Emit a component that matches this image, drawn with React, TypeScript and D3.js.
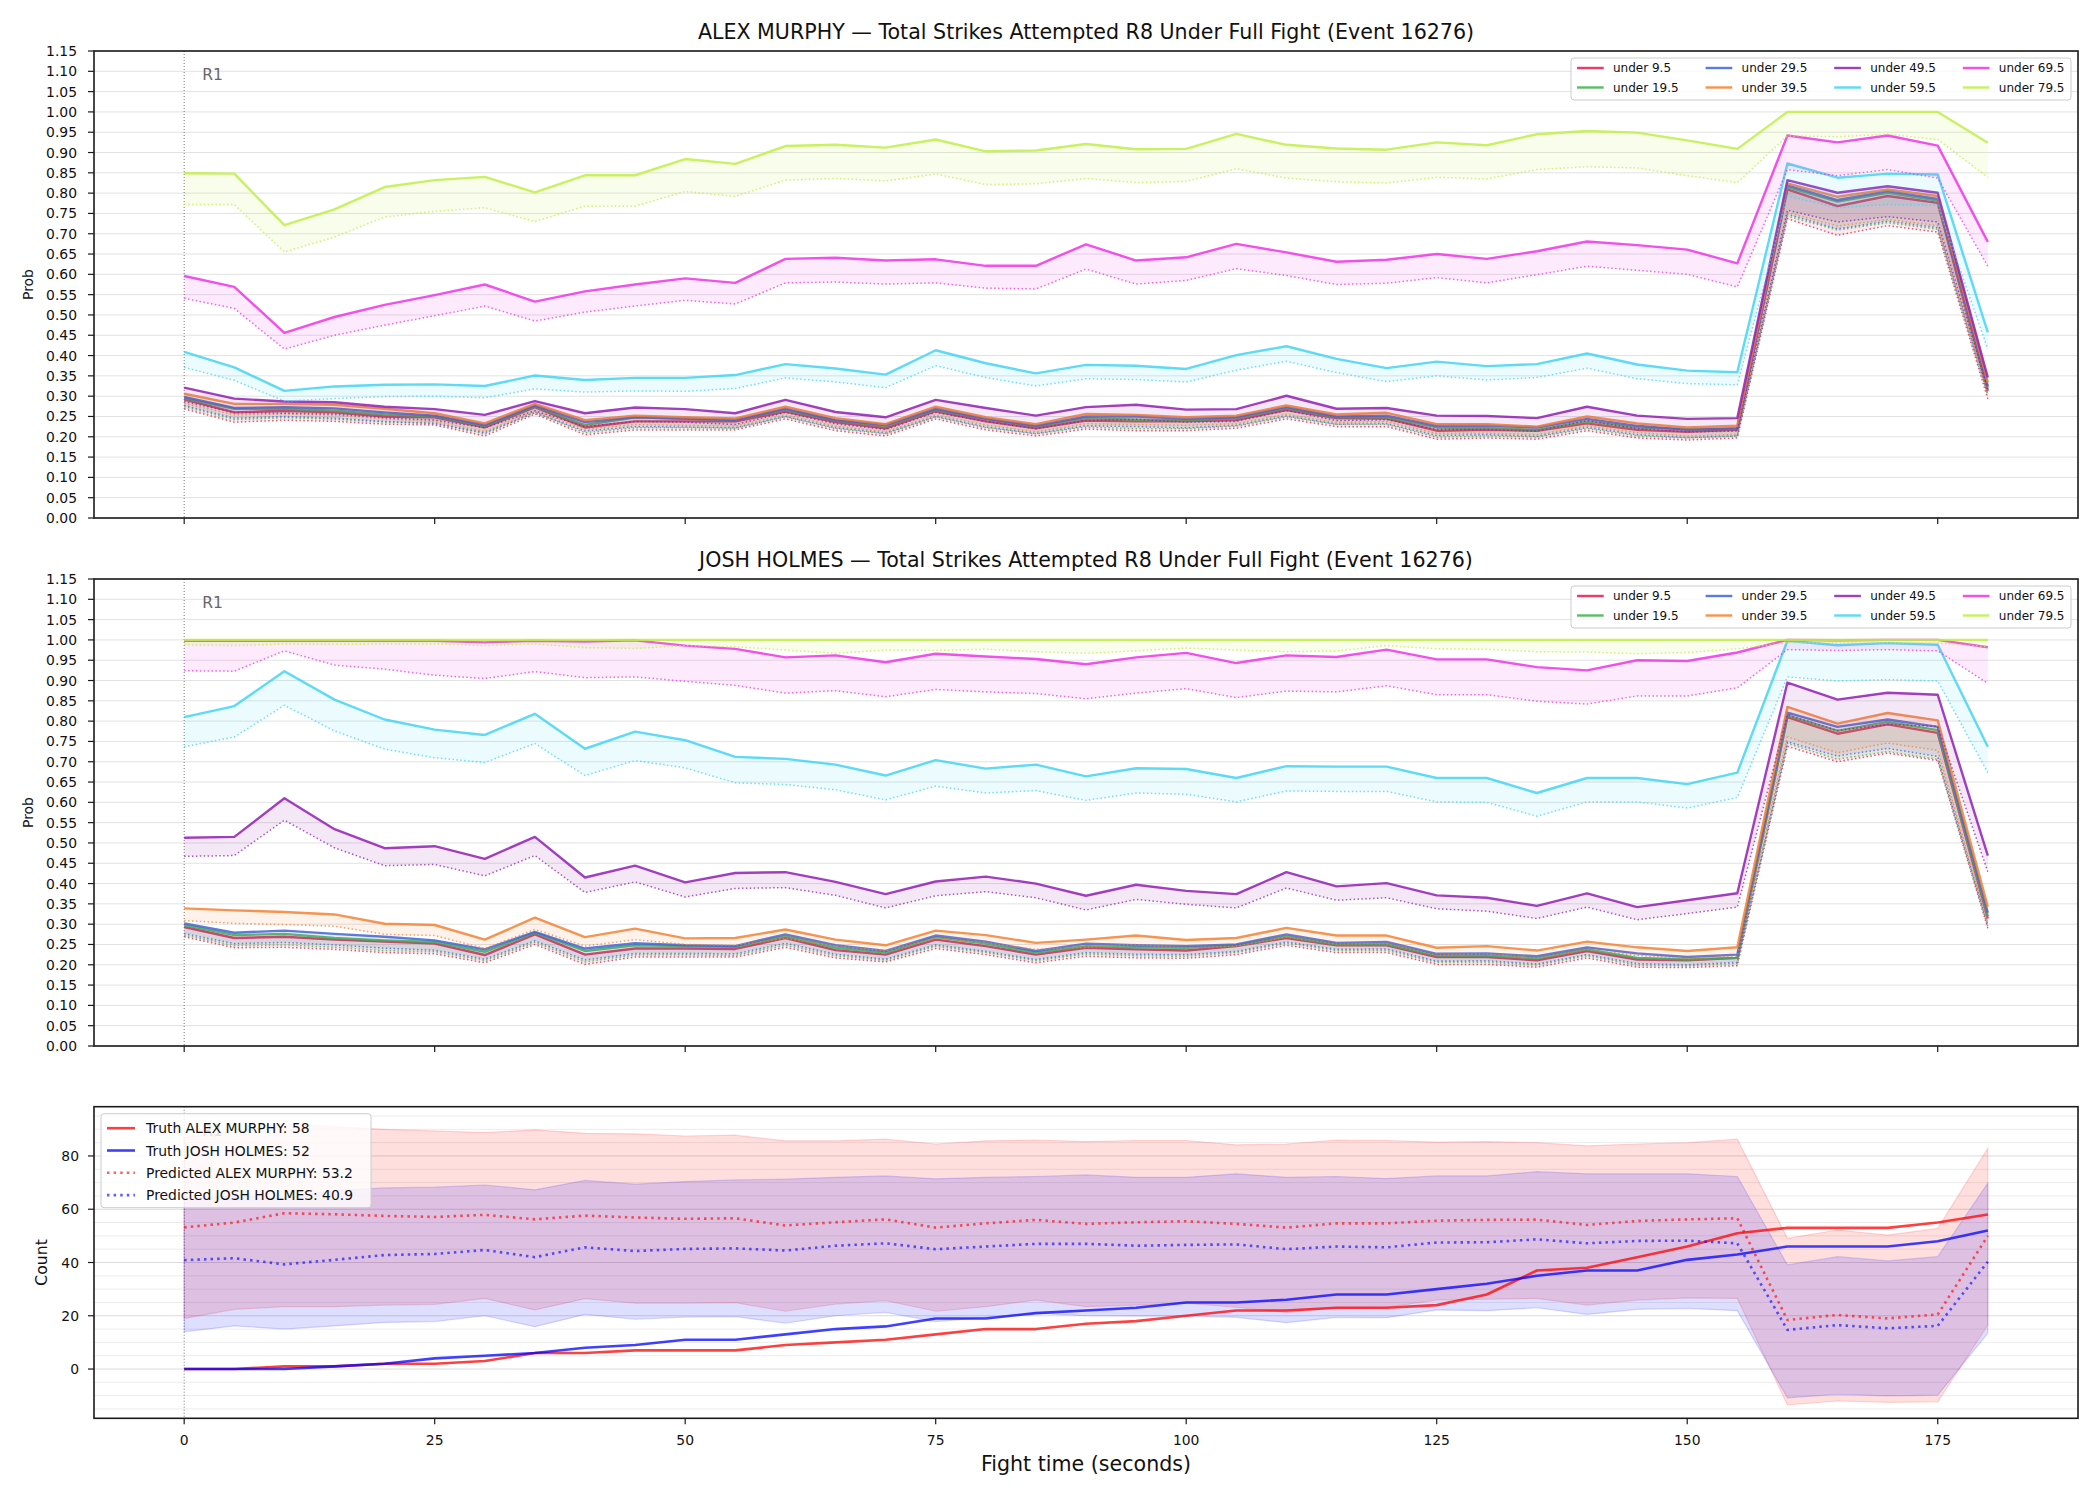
import React, { useEffect, useRef } from 'react';
import * as d3 from 'd3';

const TIMES = [0, 5, 10, 15, 20, 25, 30, 35, 40, 45, 50, 55, 60, 65, 70, 75, 80, 85,
  90, 95, 100, 105, 110, 115, 120, 125, 130, 135, 140, 145, 150, 155, 160, 165, 170, 175, 180];

const X_TICKS = [0, 25, 50, 75, 100, 125, 150, 175];
const PROB_TICKS = [0, 0.05, 0.1, 0.15, 0.2, 0.25, 0.3, 0.35, 0.4, 0.45, 0.5, 0.55, 0.6, 0.65, 0.7, 0.75, 0.8, 0.85, 0.9, 0.95, 1.0, 1.05, 1.1, 1.15];
const COUNT_TICKS = [0, 20, 40, 60, 80];
const COUNT_MINOR = [-15, -10, -5, 5, 10, 15, 25, 30, 35, 45, 50, 55, 65, 70, 75, 85, 90, 95];

const LINE_LABELS = ['under 9.5', 'under 19.5', 'under 29.5', 'under 39.5', 'under 49.5', 'under 59.5', 'under 69.5', 'under 79.5'];
const LINE_COLORS = ['#e6194b', '#3cb44b', '#4363d8', '#f58231', '#911eb4', '#42d4f4', '#f032e6', '#bfef45'];

// ---- ALEX MURPHY: probability of "under" (solid) and lower band (dotted)
const ALEX_U9 = [0.292, 0.260, 0.264, 0.260, 0.250, 0.248, 0.223, 0.273, 0.223, 0.238, 0.238, 0.238, 0.262, 0.236, 0.221, 0.263, 0.238, 0.221,
  0.240, 0.238, 0.238, 0.241, 0.266, 0.246, 0.245, 0.215, 0.217, 0.215, 0.233, 0.217, 0.212, 0.217, 0.809, 0.768, 0.793, 0.776, 0.313];
const ALEX_U9_LO = [0.269, 0.236, 0.241, 0.238, 0.231, 0.229, 0.202, 0.256, 0.205, 0.217, 0.217, 0.217, 0.244, 0.215, 0.202, 0.244, 0.217, 0.202,
  0.219, 0.215, 0.215, 0.221, 0.244, 0.225, 0.225, 0.194, 0.197, 0.194, 0.215, 0.197, 0.192, 0.197, 0.737, 0.696, 0.720, 0.704, 0.293];
const ALEX_U19 = [0.295, 0.269, 0.269, 0.264, 0.255, 0.250, 0.226, 0.275, 0.229, 0.248, 0.244, 0.242, 0.266, 0.240, 0.226, 0.266, 0.244, 0.225,
  0.246, 0.242, 0.240, 0.246, 0.270, 0.248, 0.248, 0.223, 0.221, 0.217, 0.238, 0.223, 0.219, 0.219, 0.815, 0.779, 0.801, 0.782, 0.321];
const ALEX_U19_LO = [0.274, 0.242, 0.247, 0.243, 0.236, 0.234, 0.207, 0.261, 0.210, 0.222, 0.222, 0.221, 0.249, 0.220, 0.207, 0.249, 0.222, 0.207,
  0.224, 0.220, 0.220, 0.226, 0.249, 0.230, 0.230, 0.199, 0.202, 0.199, 0.220, 0.202, 0.197, 0.202, 0.743, 0.709, 0.727, 0.711, 0.301];
const ALEX_U29 = [0.298, 0.271, 0.273, 0.270, 0.260, 0.252, 0.229, 0.277, 0.236, 0.248, 0.245, 0.241, 0.269, 0.241, 0.229, 0.269, 0.244, 0.227,
  0.250, 0.250, 0.244, 0.248, 0.273, 0.250, 0.252, 0.227, 0.227, 0.223, 0.244, 0.227, 0.217, 0.221, 0.819, 0.783, 0.805, 0.786, 0.325];
const ALEX_U29_LO = [0.277, 0.246, 0.250, 0.246, 0.238, 0.232, 0.210, 0.259, 0.214, 0.225, 0.224, 0.222, 0.250, 0.222, 0.209, 0.250, 0.224, 0.208,
  0.227, 0.225, 0.222, 0.228, 0.251, 0.231, 0.232, 0.203, 0.205, 0.201, 0.223, 0.205, 0.198, 0.202, 0.748, 0.712, 0.731, 0.715, 0.305];
const ALEX_U39 = [0.306, 0.281, 0.281, 0.279, 0.269, 0.258, 0.233, 0.281, 0.241, 0.252, 0.248, 0.245, 0.274, 0.246, 0.231, 0.274, 0.248, 0.231,
  0.256, 0.254, 0.248, 0.252, 0.277, 0.255, 0.259, 0.231, 0.231, 0.225, 0.250, 0.233, 0.223, 0.227, 0.824, 0.791, 0.809, 0.793, 0.334];
const ALEX_U39_LO = [0.282, 0.254, 0.256, 0.253, 0.244, 0.237, 0.213, 0.262, 0.219, 0.230, 0.228, 0.226, 0.254, 0.226, 0.212, 0.254, 0.229, 0.212,
  0.232, 0.230, 0.228, 0.232, 0.255, 0.235, 0.237, 0.208, 0.209, 0.205, 0.227, 0.210, 0.202, 0.206, 0.752, 0.719, 0.735, 0.720, 0.309];
const ALEX_U49 = [0.321, 0.294, 0.287, 0.285, 0.274, 0.268, 0.254, 0.288, 0.258, 0.272, 0.268, 0.258, 0.291, 0.261, 0.248, 0.291, 0.271, 0.252,
  0.273, 0.279, 0.267, 0.268, 0.301, 0.269, 0.271, 0.252, 0.251, 0.246, 0.274, 0.252, 0.244, 0.246, 0.832, 0.801, 0.817, 0.801, 0.346];
const ALEX_U49_LO = [0.287, 0.260, 0.258, 0.256, 0.247, 0.241, 0.222, 0.264, 0.225, 0.238, 0.236, 0.230, 0.260, 0.232, 0.218, 0.260, 0.238, 0.220,
  0.240, 0.243, 0.236, 0.238, 0.265, 0.240, 0.242, 0.218, 0.218, 0.214, 0.240, 0.220, 0.212, 0.214, 0.758, 0.729, 0.742, 0.729, 0.317];
const ALEX_U59 = [0.409, 0.371, 0.313, 0.324, 0.328, 0.329, 0.325, 0.351, 0.340, 0.345, 0.345, 0.352, 0.379, 0.368, 0.353, 0.413, 0.381, 0.356,
  0.377, 0.375, 0.367, 0.401, 0.423, 0.392, 0.369, 0.385, 0.374, 0.379, 0.405, 0.378, 0.363, 0.359, 0.873, 0.838, 0.848, 0.846, 0.457];
const ALEX_U59_LO = [0.371, 0.339, 0.288, 0.294, 0.299, 0.300, 0.296, 0.318, 0.310, 0.313, 0.312, 0.319, 0.345, 0.335, 0.321, 0.375, 0.346, 0.325,
  0.343, 0.341, 0.335, 0.364, 0.386, 0.358, 0.336, 0.350, 0.340, 0.346, 0.369, 0.343, 0.331, 0.328, 0.793, 0.764, 0.772, 0.770, 0.416];
const ALEX_U69 = [0.596, 0.569, 0.456, 0.495, 0.525, 0.549, 0.575, 0.533, 0.558, 0.575, 0.590, 0.579, 0.638, 0.641, 0.634, 0.637, 0.621, 0.621,
  0.674, 0.634, 0.642, 0.675, 0.654, 0.631, 0.636, 0.650, 0.638, 0.657, 0.681, 0.672, 0.661, 0.627, 0.942, 0.925, 0.942, 0.917, 0.680];
const ALEX_U69_LO = [0.541, 0.516, 0.416, 0.450, 0.475, 0.498, 0.522, 0.485, 0.507, 0.522, 0.536, 0.527, 0.579, 0.581, 0.576, 0.579, 0.566, 0.564,
  0.613, 0.576, 0.585, 0.614, 0.597, 0.575, 0.578, 0.592, 0.579, 0.599, 0.620, 0.610, 0.600, 0.569, 0.858, 0.843, 0.858, 0.837, 0.620];
const ALEX_U79 = [0.849, 0.848, 0.721, 0.760, 0.815, 0.832, 0.840, 0.802, 0.844, 0.844, 0.884, 0.872, 0.916, 0.919, 0.912, 0.932, 0.903, 0.905,
  0.921, 0.908, 0.909, 0.946, 0.919, 0.910, 0.907, 0.925, 0.918, 0.945, 0.953, 0.949, 0.930, 0.909, 1.000, 1.000, 1.000, 1.000, 0.924];
const ALEX_U79_LO = [0.772, 0.772, 0.655, 0.692, 0.741, 0.755, 0.764, 0.730, 0.768, 0.768, 0.804, 0.792, 0.832, 0.836, 0.830, 0.847, 0.821, 0.823,
  0.836, 0.826, 0.829, 0.860, 0.837, 0.828, 0.825, 0.839, 0.835, 0.858, 0.865, 0.862, 0.843, 0.826, 0.941, 0.939, 0.945, 0.932, 0.839];

// ---- JOSH HOLMES
const JOSH_U9 = [0.293, 0.266, 0.269, 0.262, 0.257, 0.252, 0.224, 0.275, 0.225, 0.240, 0.240, 0.239, 0.266, 0.236, 0.225, 0.262, 0.246, 0.225,
  0.242, 0.238, 0.235, 0.246, 0.266, 0.248, 0.248, 0.219, 0.219, 0.211, 0.234, 0.213, 0.211, 0.217, 0.810, 0.769, 0.792, 0.771, 0.314];
const JOSH_U9_LO = [0.269, 0.242, 0.243, 0.238, 0.230, 0.227, 0.205, 0.250, 0.201, 0.219, 0.219, 0.219, 0.243, 0.217, 0.207, 0.240, 0.225, 0.205,
  0.221, 0.217, 0.216, 0.225, 0.248, 0.230, 0.230, 0.201, 0.201, 0.194, 0.217, 0.194, 0.193, 0.198, 0.738, 0.700, 0.721, 0.703, 0.290];
const JOSH_U19 = [0.298, 0.273, 0.276, 0.266, 0.260, 0.256, 0.232, 0.279, 0.234, 0.248, 0.246, 0.244, 0.270, 0.242, 0.230, 0.268, 0.252, 0.230,
  0.246, 0.243, 0.242, 0.248, 0.270, 0.250, 0.250, 0.223, 0.223, 0.216, 0.238, 0.217, 0.213, 0.217, 0.814, 0.776, 0.798, 0.778, 0.320];
const JOSH_U19_LO = [0.273, 0.247, 0.249, 0.243, 0.235, 0.232, 0.210, 0.255, 0.207, 0.224, 0.224, 0.223, 0.248, 0.222, 0.211, 0.245, 0.230, 0.210,
  0.226, 0.222, 0.221, 0.230, 0.253, 0.235, 0.235, 0.206, 0.206, 0.199, 0.222, 0.199, 0.197, 0.203, 0.745, 0.706, 0.725, 0.706, 0.294];
const JOSH_U29 = [0.302, 0.279, 0.284, 0.276, 0.269, 0.260, 0.238, 0.281, 0.240, 0.253, 0.248, 0.246, 0.275, 0.248, 0.234, 0.272, 0.257, 0.234,
  0.252, 0.248, 0.246, 0.250, 0.275, 0.254, 0.256, 0.227, 0.228, 0.221, 0.243, 0.228, 0.219, 0.225, 0.821, 0.786, 0.804, 0.786, 0.328];
const JOSH_U29_LO = [0.277, 0.252, 0.255, 0.249, 0.241, 0.236, 0.214, 0.259, 0.212, 0.228, 0.228, 0.227, 0.253, 0.226, 0.214, 0.249, 0.233, 0.213,
  0.230, 0.226, 0.225, 0.233, 0.256, 0.238, 0.239, 0.209, 0.210, 0.202, 0.225, 0.203, 0.200, 0.206, 0.749, 0.714, 0.733, 0.713, 0.298];
const JOSH_U39 = [0.339, 0.334, 0.330, 0.324, 0.301, 0.298, 0.262, 0.316, 0.268, 0.289, 0.265, 0.266, 0.287, 0.262, 0.248, 0.284, 0.273, 0.254,
  0.262, 0.272, 0.261, 0.266, 0.291, 0.272, 0.272, 0.242, 0.246, 0.235, 0.257, 0.243, 0.234, 0.243, 0.835, 0.794, 0.820, 0.802, 0.343];
const JOSH_U39_LO = [0.309, 0.302, 0.299, 0.295, 0.275, 0.272, 0.240, 0.287, 0.246, 0.262, 0.250, 0.248, 0.265, 0.246, 0.234, 0.266, 0.254, 0.238,
  0.243, 0.250, 0.241, 0.246, 0.268, 0.251, 0.252, 0.224, 0.227, 0.217, 0.237, 0.223, 0.215, 0.222, 0.761, 0.722, 0.746, 0.728, 0.302];
const JOSH_U49 = [0.513, 0.515, 0.610, 0.534, 0.487, 0.492, 0.461, 0.515, 0.415, 0.444, 0.403, 0.426, 0.428, 0.404, 0.374, 0.405, 0.417, 0.400,
  0.370, 0.397, 0.382, 0.374, 0.428, 0.393, 0.401, 0.371, 0.365, 0.345, 0.376, 0.342, 0.359, 0.376, 0.895, 0.853, 0.870, 0.865, 0.469];
const JOSH_U49_LO = [0.467, 0.469, 0.556, 0.488, 0.444, 0.447, 0.419, 0.469, 0.378, 0.404, 0.367, 0.388, 0.390, 0.371, 0.340, 0.370, 0.380, 0.365,
  0.335, 0.361, 0.349, 0.340, 0.389, 0.359, 0.365, 0.338, 0.332, 0.314, 0.342, 0.311, 0.326, 0.342, 0.815, 0.777, 0.792, 0.787, 0.429];
const JOSH_U59 = [0.810, 0.837, 0.923, 0.853, 0.804, 0.779, 0.766, 0.818, 0.732, 0.774, 0.753, 0.712, 0.707, 0.693, 0.666, 0.704, 0.683, 0.693,
  0.664, 0.684, 0.682, 0.660, 0.689, 0.688, 0.688, 0.660, 0.660, 0.623, 0.660, 0.660, 0.645, 0.673, 0.998, 0.987, 0.992, 0.988, 0.737];
const JOSH_U59_LO = [0.737, 0.761, 0.839, 0.776, 0.731, 0.710, 0.698, 0.745, 0.666, 0.703, 0.685, 0.648, 0.644, 0.631, 0.606, 0.640, 0.623, 0.629,
  0.605, 0.623, 0.620, 0.601, 0.628, 0.627, 0.627, 0.601, 0.600, 0.566, 0.601, 0.601, 0.586, 0.612, 0.909, 0.899, 0.902, 0.899, 0.673];
const JOSH_U69 = [0.998, 0.998, 0.998, 0.998, 0.998, 0.998, 0.994, 0.998, 0.996, 0.999, 0.986, 0.978, 0.957, 0.962, 0.945, 0.966, 0.959, 0.953,
  0.940, 0.957, 0.968, 0.943, 0.962, 0.958, 0.976, 0.952, 0.952, 0.933, 0.925, 0.950, 0.948, 0.969, 1.000, 0.999, 1.000, 1.000, 0.982];
const JOSH_U69_LO = [0.924, 0.923, 0.973, 0.938, 0.928, 0.913, 0.905, 0.922, 0.907, 0.909, 0.898, 0.888, 0.869, 0.875, 0.860, 0.878, 0.872, 0.868,
  0.855, 0.869, 0.880, 0.858, 0.874, 0.872, 0.887, 0.865, 0.865, 0.849, 0.842, 0.862, 0.862, 0.882, 0.976, 0.974, 0.976, 0.973, 0.893];
const JOSH_U79 = [1.000, 1.000, 1.000, 1.000, 1.000, 1.000, 1.000, 1.000, 1.000, 1.000, 1.000, 1.000, 1.000, 1.000, 1.000, 1.000, 1.000, 1.000,
  1.000, 1.000, 1.000, 1.000, 1.000, 1.000, 1.000, 1.000, 1.000, 1.000, 1.000, 1.000, 1.000, 1.000, 1.000, 1.000, 1.000, 1.000, 1.000];
const JOSH_U79_LO = [0.988, 0.986, 0.990, 0.989, 0.990, 0.990, 0.986, 0.990, 0.981, 0.979, 0.986, 0.983, 0.975, 0.967, 0.975, 0.974, 0.977, 0.971,
  0.967, 0.973, 0.980, 0.975, 0.971, 0.973, 0.986, 0.978, 0.977, 0.971, 0.970, 0.966, 0.969, 0.978, 0.993, 0.992, 0.993, 0.992, 0.983];

// ---- running counts
const TRUTH_ALEX = [0, 0, 1, 1, 2, 2, 3, 6, 6, 7, 7, 7, 9, 10, 11, 13, 15, 15,
  17, 18, 20, 22, 22, 23, 23, 24, 28, 37, 38, 42, 46, 51, 53, 53, 53, 55, 58];
const TRUTH_JOSH = [0, 0, 0, 1, 2, 4, 5, 6, 8, 9, 11, 11, 13, 15, 16, 19, 19, 21,
  22, 23, 25, 25, 26, 28, 28, 30, 32, 35, 37, 37, 41, 43, 46, 46, 46, 48, 52];
const PRED_ALEX = [53.2, 55.0, 58.5, 58.1, 57.5, 57.1, 57.9, 56.2, 57.6, 56.9, 56.4, 56.6, 53.9, 55.1, 56.2, 53.1, 54.7, 56.0,
  54.5, 55.1, 55.5, 54.5, 53.1, 54.7, 54.7, 55.7, 56.0, 56.1, 54.1, 55.6, 56.2, 56.6, 18.4, 20.3, 19.0, 20.5, 50.0];
const PRED_JOSH = [40.9, 41.6, 39.3, 41.0, 42.8, 43.2, 44.7, 42.0, 45.7, 44.3, 45.1, 45.3, 44.5, 46.3, 47.2, 45.0, 46.0, 47.0,
  47.0, 46.3, 46.6, 46.8, 45.0, 46.0, 45.7, 47.5, 47.6, 48.7, 47.2, 48.1, 48.2, 47.2, 14.7, 16.5, 15.3, 16.2, 40.3];
const ALEX_HI = [87.0, 89.0, 92.0, 91.0, 90.0, 89.4, 88.8, 89.8, 88.5, 88.3, 87.5, 87.8, 85.7, 85.7, 86.3, 84.5, 85.7, 86.0,
  85.4, 85.8, 85.8, 84.2, 84.5, 86.0, 85.8, 85.2, 85.4, 85.0, 83.8, 84.5, 85.0, 86.3, 49.1, 52.2, 50.3, 52.8, 82.9];
const ALEX_LO = [19.0, 22.4, 23.4, 23.4, 24.0, 24.3, 26.5, 22.2, 26.4, 24.7, 24.7, 24.9, 21.7, 24.4, 25.7, 21.7, 23.4, 25.9,
  23.4, 24.0, 24.7, 23.2, 21.2, 23.0, 23.2, 25.9, 26.2, 26.5, 24.0, 25.9, 26.7, 26.5, -13.5, -12.0, -12.5, -12.3, 16.5];
const JOSH_HI = [64.0, 65.0, 64.0, 67.0, 68.0, 68.3, 69.1, 67.3, 70.8, 69.4, 70.4, 71.0, 71.3, 72.0, 72.5, 71.4, 72.0, 72.3,
  72.9, 72.0, 72.0, 73.3, 72.0, 72.3, 71.5, 72.5, 72.5, 74.1, 73.3, 73.3, 73.3, 72.3, 39.1, 42.2, 40.6, 42.2, 69.8];
const JOSH_LO = [14.0, 16.2, 15.0, 16.2, 17.5, 17.8, 20.0, 15.9, 20.5, 18.7, 19.5, 19.7, 17.2, 20.0, 21.3, 17.8, 19.4, 20.9,
  20.0, 19.9, 19.9, 19.4, 17.4, 19.4, 19.3, 22.2, 21.9, 23.0, 20.5, 22.4, 22.8, 21.9, -10.8, -9.5, -10.1, -9.8, 13.4];

const ALEX_NAME = 'ALEX MURPHY';
const JOSH_NAME = 'JOSH HOLMES';
const TITLE_SUFFIX = ' — Total Strikes Attempted R8 Under Full Fight (Event 16276)';
const LEGEND_COUNT = ['Truth ALEX MURPHY: 58', 'Truth JOSH HOLMES: 52', 'Predicted ALEX MURPHY: 53.2', 'Predicted JOSH HOLMES: 40.9'];

const FONT = 'DejaVu Sans, sans-serif';

const App = () => {
  const ref = useRef(null);

  useEffect(() => {
    const svg = d3.select(ref.current);
    svg.selectAll('*').remove();

    const left = 94;
    const right = 2078;
    const x = d3.scaleLinear().domain([-9, 189]).range([left, right]);

    // round marker (drawn under the data)
    const roundMark = (g, top, bottom) => {
      g.append('line').attr('x1', x(0)).attr('x2', x(0)).attr('y1', top).attr('y2', bottom)
        .attr('stroke', '#555').attr('stroke-width', 1).attr('stroke-dasharray', '1,2').attr('opacity', 0.8);
      g.append('text').attr('x', x(0) + 18).attr('y', top + 29).text('R1')
        .attr('font-family', FONT).attr('font-size', 15.5).attr('fill', '#666');
    };

    // spines and x ticks
    const frame = (g, top, bottom, showXLabels) => {
      g.append('rect').attr('x', left).attr('y', top).attr('width', right - left).attr('height', bottom - top)
        .attr('fill', 'none').attr('stroke', '#1a1a1a').attr('stroke-width', 1.6);
      X_TICKS.forEach(t => {
        g.append('line').attr('x1', x(t)).attr('x2', x(t)).attr('y1', bottom).attr('y2', bottom + 6)
          .attr('stroke', '#1a1a1a').attr('stroke-width', 1.2);
        if (showXLabels) {
          g.append('text').attr('x', x(t)).attr('y', bottom + 27).attr('text-anchor', 'middle')
            .attr('font-family', FONT).attr('font-size', 13.9).attr('fill', '#111').text(t);
        }
      });
    };

    const probPanel = (top, bottom, name, solids, lows) => {
      const y = d3.scaleLinear().domain([0, 1.15]).range([bottom, top]);
      const g = svg.append('g');

      PROB_TICKS.forEach(v => {
        g.append('line').attr('x1', left).attr('x2', right).attr('y1', y(v)).attr('y2', y(v))
          .attr('stroke', '#e2e2e2').attr('stroke-width', 1);
      });
      roundMark(g, top, bottom);

      solids.forEach((vals, k) => {
        const lo = lows[k];
        const col = LINE_COLORS[k];
        const area = d3.area().x((_, i) => x(TIMES[i])).y0((_, i) => y(lo[i])).y1(d => y(d));
        const line = d3.line().x((_, i) => x(TIMES[i])).y(d => y(d));
        g.append('path').datum(vals).attr('d', area).attr('fill', col).attr('opacity', 0.1);
        g.append('path').datum(lo).attr('d', line).attr('fill', 'none').attr('stroke', col)
          .attr('stroke-width', 1.5).attr('stroke-dasharray', '1.5,2.4').attr('opacity', 0.75);
        g.append('path').datum(vals).attr('d', line).attr('fill', 'none').attr('stroke', col)
          .attr('stroke-width', 2.4).attr('stroke-linejoin', 'round').attr('opacity', 0.85);
      });

      frame(g, top, bottom, false);

      PROB_TICKS.forEach(v => {
        g.append('line').attr('x1', left - 6).attr('x2', left).attr('y1', y(v)).attr('y2', y(v))
          .attr('stroke', '#1a1a1a').attr('stroke-width', 1.2);
        g.append('text').attr('x', left - 17).attr('y', y(v)).attr('dy', '0.36em').attr('text-anchor', 'end')
          .attr('font-family', FONT).attr('font-size', 13.9).attr('fill', '#111').text(d3.format('.2f')(v));
      });

      g.append('text').attr('transform', `translate(28,${(top + bottom) / 2}) rotate(-90)`)
        .attr('text-anchor', 'middle').attr('dy', '0.36em').attr('font-family', FONT).attr('font-size', 13.9)
        .attr('fill', '#111').text('Prob');

      g.append('text').attr('x', (left + right) / 2).attr('y', top - 12).attr('text-anchor', 'middle')
        .attr('font-family', FONT).attr('font-size', 20.6).attr('fill', '#111').text(name + TITLE_SUFFIX);

      // legend, 4 columns x 2 rows
      const lg = g.append('g');
      lg.append('rect').attr('x', 1571).attr('y', top + 7).attr('width', 500).attr('height', 42).attr('rx', 3)
        .attr('fill', '#fff').attr('fill-opacity', 0.8).attr('stroke', '#cccccc').attr('stroke-width', 1);
      LINE_LABELS.forEach((lab, k) => {
        const cx = 1577 + Math.floor(k / 2) * 128.6;
        const cy = top + 17 + (k % 2) * 19.5;
        lg.append('line').attr('x1', cx).attr('x2', cx + 26.7).attr('y1', cy).attr('y2', cy)
          .attr('stroke', LINE_COLORS[k]).attr('stroke-width', 2.4).attr('opacity', 0.85);
        lg.append('text').attr('x', cx + 36).attr('y', cy).attr('dy', '0.36em')
          .attr('font-family', FONT).attr('font-size', 12).attr('fill', '#111').text(lab);
      });
    };

    probPanel(51, 518, ALEX_NAME,
      [ALEX_U9, ALEX_U19, ALEX_U29, ALEX_U39, ALEX_U49, ALEX_U59, ALEX_U69, ALEX_U79],
      [ALEX_U9_LO, ALEX_U19_LO, ALEX_U29_LO, ALEX_U39_LO, ALEX_U49_LO, ALEX_U59_LO, ALEX_U69_LO, ALEX_U79_LO]);
    probPanel(579, 1046, JOSH_NAME,
      [JOSH_U9, JOSH_U19, JOSH_U29, JOSH_U39, JOSH_U49, JOSH_U59, JOSH_U69, JOSH_U79],
      [JOSH_U9_LO, JOSH_U19_LO, JOSH_U29_LO, JOSH_U39_LO, JOSH_U49_LO, JOSH_U59_LO, JOSH_U69_LO, JOSH_U79_LO]);

    // ---- count panel
    const cTop = 1106.7;
    const cBottom = 1418.3;
    const y = d3.scaleLinear().domain([-18.5, 98.5]).range([cBottom, cTop]);
    const g = svg.append('g');

    COUNT_MINOR.forEach(v => {
      g.append('line').attr('x1', left).attr('x2', right).attr('y1', y(v)).attr('y2', y(v))
        .attr('stroke', '#ececec').attr('stroke-width', 1);
    });
    COUNT_TICKS.forEach(v => {
      g.append('line').attr('x1', left).attr('x2', right).attr('y1', y(v)).attr('y2', y(v))
        .attr('stroke', '#dadada').attr('stroke-width', 1);
    });
    roundMark(g, cTop, cBottom);

    const band = (hi, lo, col) => {
      const area = d3.area().x((_, i) => x(TIMES[i])).y0((_, i) => y(lo[i])).y1(d => y(d));
      g.append('path').datum(hi).attr('d', area).attr('fill', col).attr('fill-opacity', 0.13)
        .attr('stroke', col).attr('stroke-opacity', 0.15).attr('stroke-width', 1.2);
    };
    band(ALEX_HI, ALEX_LO, '#ff0000');
    band(JOSH_HI, JOSH_LO, '#0000ff');

    const cline = d3.line().x((_, i) => x(TIMES[i])).y(d => y(d));
    const countSeries = [
      { vals: TRUTH_ALEX, col: '#ff0000', dash: null, op: 0.75 },
      { vals: TRUTH_JOSH, col: '#0000ff', dash: null, op: 0.75 },
      { vals: PRED_ALEX, col: '#ff0000', dash: '2.5,4.1', op: 0.62 },
      { vals: PRED_JOSH, col: '#0000ff', dash: '2.5,4.1', op: 0.62 },
    ];
    countSeries.forEach(s => {
      g.append('path').datum(s.vals).attr('d', cline).attr('fill', 'none').attr('stroke', s.col)
        .attr('stroke-width', 2.6).attr('stroke-dasharray', s.dash).attr('opacity', s.op)
        .attr('stroke-linejoin', 'round');
    });

    frame(g, cTop, cBottom, true);

    COUNT_TICKS.forEach(v => {
      g.append('line').attr('x1', left - 6).attr('x2', left).attr('y1', y(v)).attr('y2', y(v))
        .attr('stroke', '#1a1a1a').attr('stroke-width', 1.2);
      g.append('text').attr('x', left - 15).attr('y', y(v)).attr('dy', '0.36em').attr('text-anchor', 'end')
        .attr('font-family', FONT).attr('font-size', 13.9).attr('fill', '#111').text(v);
    });

    g.append('text').attr('transform', `translate(41,${(cTop + cBottom) / 2}) rotate(-90)`)
      .attr('text-anchor', 'middle').attr('dy', '0.36em').attr('font-family', FONT).attr('font-size', 15.7)
      .attr('fill', '#111').text('Count');

    g.append('text').attr('x', (left + right) / 2).attr('y', 1471).attr('text-anchor', 'middle')
      .attr('font-family', FONT).attr('font-size', 20.6).attr('fill', '#111').text('Fight time (seconds)');

    // count legend
    const lg = g.append('g');
    lg.append('rect').attr('x', 101).attr('y', cTop + 7).attr('width', 270).attr('height', 94).attr('rx', 3)
      .attr('fill', '#fff').attr('fill-opacity', 0.8).attr('stroke', '#cccccc').attr('stroke-width', 1);
    countSeries.forEach((s, k) => {
      const cy = cTop + 21.5 + k * 22.3;
      lg.append('line').attr('x1', 107).attr('x2', 135).attr('y1', cy).attr('y2', cy)
        .attr('stroke', s.col).attr('stroke-width', 2.6).attr('stroke-dasharray', s.dash).attr('opacity', s.op);
      lg.append('text').attr('x', 146).attr('y', cy).attr('dy', '0.36em')
        .attr('font-family', FONT).attr('font-size', 13.9).attr('fill', '#111').text(LEGEND_COUNT[k]);
    });
  }, []);

  return (
    <svg ref={ref} width={2100} height={1500}
      style={{ position: 'absolute', left: 0, top: 0, background: '#fff' }} />
  );
};

export default App;
